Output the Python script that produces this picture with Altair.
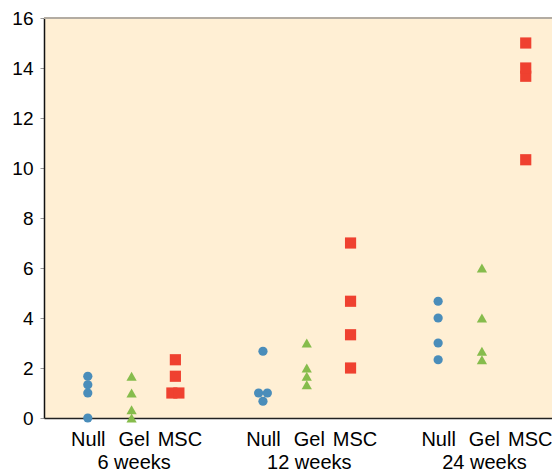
import altair as alt
import pandas as pd

weeks = ["6 weeks", "12 weeks", "24 weeks"]
treatments = ["Null", "Gel", "MSC"]

null_vals = [[0, 1, 1.33, 1.67], [0.67, 1, 1, 2.67], [2.33, 3, 4, 4.67]]
gel_vals = [[0, 0.33, 1, 1.67], [1.33, 1.67, 2, 3], [2.33, 2.67, 4, 6]]
msc_vals = [[1, 1, 1.67, 2.33], [2, 3.33, 4.67, 7], [10.33, 13.67, 14, 15]]

# small horizontal dodge (in slot units) for coincident points
null_dodge = [[0, 0, 0, 0], [0, -0.1, 0.1, 0], [0, 0, 0, 0]]
gel_dodge = [[0, 0, 0, 0], [0, 0, 0, 0], [0, 0, 0, 0]]
msc_dodge = [[-0.08, 0.08, 0, 0], [0, 0, 0, 0], [0, 0, 0, 0]]

vals = [null_vals, gel_vals, msc_vals]
dodges = [null_dodge, gel_dodge, msc_dodge]

rows = []
for wi, w in enumerate(weeks):
    for ti, t in enumerate(treatments):
        for v, d in zip(vals[ti][wi], dodges[ti][wi]):
            rows.append({"week": w, "treatment": t, "value": v,
                         "pos": wi * 4 + ti + d})
df = pd.DataFrame(rows)

tick_vals = [wi * 4 + ti for wi in range(3) for ti in range(3)]
expr = "datum.value % 4 == 0 ? 'Null' : datum.value % 4 == 2 ? 'MSC' : "
for wi, w in enumerate(weeks):
    expr += f"datum.value == {wi*4+1} ? ['Gel', '{w}'] : "
expr += "''"

FONT = "Liberation Sans"

points = alt.Chart(df).mark_point(filled=True, opacity=1).encode(
    x=alt.X("pos:Q",
            scale=alt.Scale(domain=[-1, 10.6], nice=False, zero=False),
            axis=alt.Axis(values=tick_vals, labelExpr=expr, ticks=False,
                          grid=False, title=None, labelFontSize=20,
                          labelFont=FONT, labelColor="black",
                          labelPadding=11, labelLineHeight=23,
                          labelOffset={"condition": [
                              {"test": "datum.value % 4 == 2", "value": 4},
                              {"test": "datum.value % 4 == 1", "value": 2}],
                              "value": 0},
                          labelOverlap=False, labelFlush=False,
                          domainColor="#222222", domainWidth=1.5)),
    y=alt.Y("value:Q",
            scale=alt.Scale(domain=[0, 16], nice=False),
            axis=alt.Axis(values=list(range(0, 17, 2)), grid=False, title=None,
                          labelFontSize=19, labelFont=FONT, labelColor="black",
                          tickSize=4, tickColor="#999999", labelPadding=7,
                          domainColor="#111111", domainWidth=1.5)),
    shape=alt.Shape("treatment:N", sort=treatments,
                    scale=alt.Scale(domain=treatments,
                                    range=["circle", "triangle-up", "square"]),
                    legend=None),
    color=alt.Color("treatment:N", sort=treatments,
                    scale=alt.Scale(domain=treatments,
                                    range=["#4A8DBA", "#86BC4C", "#EF4130"]),
                    legend=None),
    size=alt.Size("treatment:N",
                  scale=alt.Scale(domain=treatments, range=[85, 125, 100]),
                  legend=None),
)

top_rule = alt.Chart(df).mark_rule(color="#b3ada2", strokeWidth=1.5).encode(
    y=alt.datum(16)
)

chart = alt.layer(top_rule, points).properties(
    width=508, height=400,
    autosize=alt.AutoSizeParams(type="none"),
    padding={"left": 36, "top": 10, "right": 0, "bottom": 53},
    background="white",
).configure_view(fill="#FFEFD4", stroke=None)

chart.save("out.html", embed_options={"renderer": "svg", "actions": False})
